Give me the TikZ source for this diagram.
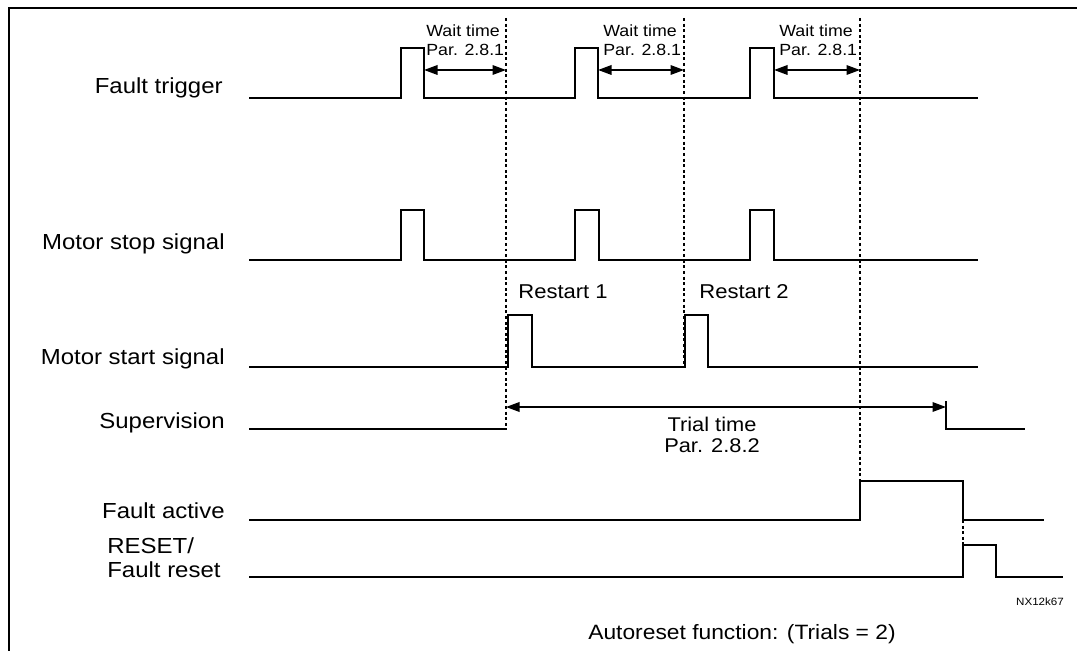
\documentclass[tikz,border=0pt]{standalone}
\usepackage{fontspec}
\setmainfont{Liberation Sans}[FakeStretch=1.1]
\usetikzlibrary{arrows.meta, positioning}
\tikzstyle{arrow}=[{Triangle[length=2.7mm,width=1.9mm]}-{Triangle[length=2.7mm,width=1.9mm]}, line width=1pt, color=black]

\begin{document}
\begin{tikzpicture}[x=0.02cm, y=-0.02cm,
  sig/.style={line width=1.25pt, line join=miter, line cap=rect},
  guide/.style={line width=1.05pt, dash pattern=on 1.7pt off 1.5pt},
  lbl/.style={anchor=base east, inner sep=0pt, font=\fontsize{12.4}{14}\selectfont},
  waitlbl/.style={anchor=north west, inner sep=0pt, align=left,
                  font=\fontsize{9.2}{11.3}\selectfont},
  restartlbl/.style={anchor=base west, inner sep=0pt, font=\fontsize{11.4}{13}\selectfont}
]
\useasboundingbox (0,0) rectangle (1077,651);

% Frame
\draw[line width=1.3pt] (9,651) -- (9,8) -- (1077,8);

% Labels
\node[lbl] (trig) at (223,94) {Fault trigger};
\node[lbl] (stop) at (225,250) {Motor stop signal};
\node[lbl] (start) at (225,364) {Motor start signal};
\node[lbl] (sup) at (225,428) {Supervision};
\node[lbl] (flt) at (225,518) {Fault active};
\node[lbl, anchor=base west] (rst) at (107,553) {RESET/};
\node[lbl, anchor=base west] (fltrst) at (107,577) {Fault reset};

% Dotted time marks
\coordinate (m1top) at (506,18);  \coordinate (m1bot) at (506,429);
\coordinate (m2top) at (684,18);  \coordinate (m2bot) at (684,367);
\coordinate (m3top) at (860,18);  \coordinate (m3bot) at (860,481);
\draw[guide] (m1top) -- (m1bot);
\draw[guide] (m2top) -- (m2bot);
\draw[guide] (m3top) -- (m3bot);
\draw[guide] (963,520) -- (963,545);

% Fault trigger
\draw[sig] (250,98) -| (401,48) -| (424,98) -| (575,48) -| (598,98)
  -| (750,48) -| (774,98) -- (977,98);

% Wait times
\coordinate (w1a) at (424,70); \coordinate (w1b) at (506,70);
\coordinate (w2a) at (598,70); \coordinate (w2b) at (684,70);
\coordinate (w3a) at (774,70); \coordinate (w3b) at (860,70);
\draw[arrow] (w1a) -- (w1b);
\draw[arrow] (w2a) -- (w2b);
\draw[arrow] (w3a) -- (w3b);
\node[waitlbl] (wait1) at (426,24) {Wait time\\Par. 2.8.1};
\node[waitlbl] (wait2) at (603,24) {Wait time\\Par. 2.8.1};
\node[waitlbl] (wait3) at (779,24) {Wait time\\Par. 2.8.1};

% Motor stop signal
\draw[sig] (250,260) -| (401,210) -| (424,260) -| (575,210) -| (599,260)
  -| (750,210) -| (774,260) -- (977,260);

% Motor start signal
\node[restartlbl] (restart1) at (518,299) {Restart 1};
\node[restartlbl] (restart2) at (699,299) {Restart 2};
\draw[sig] (250,367) -| (508,315) -| (532,367) -| (685,315) -| (708,367) -- (977,367);

% Supervision
\draw[sig] (250,429) -- (m1bot);
\coordinate (tra) at (506,407); \coordinate (trb) at (946,407);
\draw[arrow] (tra) -- (trb);
\draw[sig] (946,402) -- (946,429) -- (1024,429);
\node[align=center, inner sep=0pt, anchor=north,
      font=\fontsize{11.3}{12}\selectfont] (trial) at (712,417) {Trial time\\Par. 2.8.2};

% Fault active
\draw[sig] (250,520) -| (860,481) -| (963,520) -- (1043,520);

% RESET / Fault reset
\draw[sig] (250,577) -| (963,545) -| (996,577) -- (1062,577);

% Footer
\node[inner sep=0pt, anchor=base, font=\fontsize{6}{7}\selectfont] (code) at (1040,605) {NX12k67};
\node[inner sep=0pt, anchor=base, font=\fontsize{11.8}{13}\selectfont] (title) at (742,639) {Autoreset function: (Trials = 2)};
\end{tikzpicture}
\end{document}
